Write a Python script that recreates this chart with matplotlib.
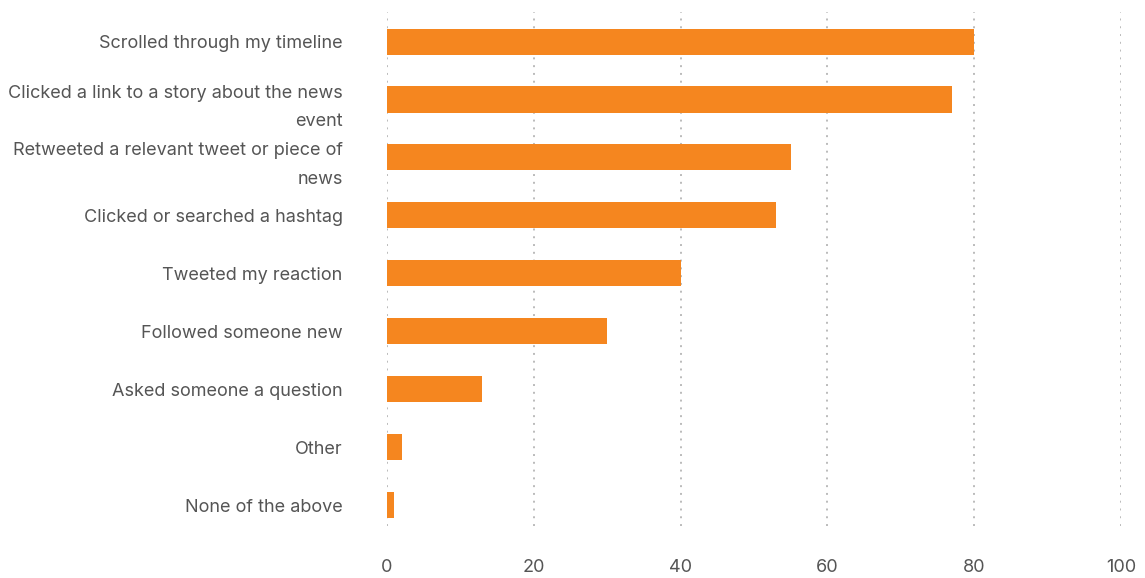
import matplotlib.pyplot as plt

plt.rcParams['font.family'] = ['Inter', 'DejaVu Sans']

# survey answers (percent)
labels = [
    'Scrolled through my timeline',
    'Clicked a link to a story about the news\nevent',
    'Retweeted a relevant tweet or piece of\nnews',
    'Clicked or searched a hashtag',
    'Tweeted my reaction',
    'Followed someone new',
    'Asked someone a question',
    'Other',
    'None of the above',
]
values = [80, 77, 55, 53, 40, 30, 13, 2, 1]
xticks = [0, 20, 40, 60, 80, 100]

W, H = 1145, 578
fig = plt.figure(figsize=(W / 100, H / 100), dpi=100)
ax = fig.add_axes([387 / W, 1 - 526 / H, (1121 - 387) / W, (526 - 12) / H])

pos = list(range(len(labels)))
ax.barh(pos, values, height=0.45, color='#F5861F', zorder=3)

ax.set_xlim(0, 100)
ax.set_ylim(8.36, -0.51)
ax.set_xticks(xticks)
ax.set_yticks(pos)
ax.set_yticklabels(labels, linespacing=1.9)

# dotted vertical grid only, no spines
ax.grid(axis='x', color='#bbbbbb', linestyle=(0, (1, 3)), linewidth=1.4, zorder=0)
ax.grid(axis='y', visible=False)
for s in ax.spines.values():
    s.set_visible(False)

ax.tick_params(axis='both', length=0, colors='#555555', labelsize=13)
ax.tick_params(axis='x', pad=24)
ax.tick_params(axis='y', pad=32)

fig.savefig('out.png', dpi=100)
